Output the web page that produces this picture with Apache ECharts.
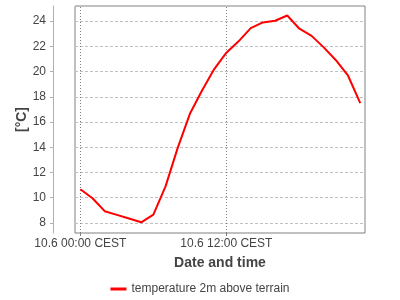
<!DOCTYPE html>
<html>
<head>
<meta charset="utf-8">
<script src="https://cdn.jsdelivr.net/npm/echarts@6/dist/echarts.min.js"></script>
<style>html,body{margin:0;padding:0;background:#fff}#c{width:400px;height:300px}</style>
</head>
<body>
<div id="c"></div>
<script>
var hours = [0,1,2,3,4,5,6,7,8,9,10,11,12,13,14,15,16,17,18,19,20,21,22,23];
var temps = [10.67,9.96,8.93,8.64,8.35,8.05,8.66,10.9,13.95,16.65,18.5,20.2,21.5,22.4,23.45,23.9,24.03,24.45,23.4,22.83,21.92,20.9,19.67,17.5];
var xTickHours = [0, 12];
var xTickLabels = ['10.6 00:00 CEST', '10.6 12:00 CEST'];
var seriesName = 'temperature 2m above terrain';

var FONT = 'Liberation Sans';
var TXT = '#444';
var chart = echarts.init(document.getElementById('c'), null, {renderer: 'canvas'});
chart.setOption({
  animation: false,
  textStyle: {fontFamily: FONT},
  grid: {left: 75, right: 35, top: 6, bottom: 67, show: true, borderColor: '#808080', borderWidth: 1, backgroundColor: '#fff'},
  xAxis: {
    type: 'value', min: -0.44, max: 23.39,
    name: 'Date and time', nameLocation: 'middle', nameGap: 23, nameMoveOverlap: false,
    nameTextStyle: {fontFamily: FONT, fontSize: 14, fontWeight: 'bold', color: TXT},
    axisLine: {show: false, onZero: false},
    axisTick: {show: true, length: 3, customValues: xTickHours, lineStyle: {color: '#808080'}},
    axisLabel: {customValues: xTickHours, margin: 5, fontSize: 12, color: TXT, fontFamily: FONT,
      formatter: function (v) { var i = xTickHours.indexOf(v); return i >= 0 ? xTickLabels[i] : ''; }},
    splitLine: {show: false}
  },
  yAxis: {
    type: 'value', min: 7.2, max: 25.2, splitNumber: 9, offset: 22,
    name: '[°C]', nameLocation: 'middle', nameGap: 24, nameMoveOverlap: false,
    nameTextStyle: {fontFamily: FONT, fontSize: 14, fontWeight: 'bold', color: TXT},
    axisLine: {show: true, onZero: false, lineStyle: {color: '#b0b0b0', width: 1}},
    axisTick: {show: true, length: 3, lineStyle: {color: '#b0b0b0'}},
    axisLabel: {showMinLabel: false, showMaxLabel: false, margin: 7, fontSize: 12, color: TXT, fontFamily: FONT},
    splitLine: {show: true, lineStyle: {color: '#c0c0c0', type: [3, 2], width: 1}}
  },
  legend: {
    top: 278, left: 'center', icon: 'rect', itemWidth: 16, itemHeight: 3, itemGap: 10,
    textStyle: {fontFamily: FONT, fontSize: 12, color: TXT},
    data: [seriesName]
  },
  series: [{
    name: seriesName, type: 'line', showSymbol: false, symbol: 'none',
    data: hours.map(function (h, i) { return [h, temps[i]]; }),
    lineStyle: {color: '#ff0000', width: 2}, itemStyle: {color: '#ff0000'},
    z: 5,
    markLine: {
      silent: true, symbol: 'none', label: {show: false},
      lineStyle: {color: '#808080', type: [1, 2], width: 1},
      data: xTickHours.map(function (h) { return {xAxis: h}; })
    }
  }]
});
</script>
</body>
</html>
